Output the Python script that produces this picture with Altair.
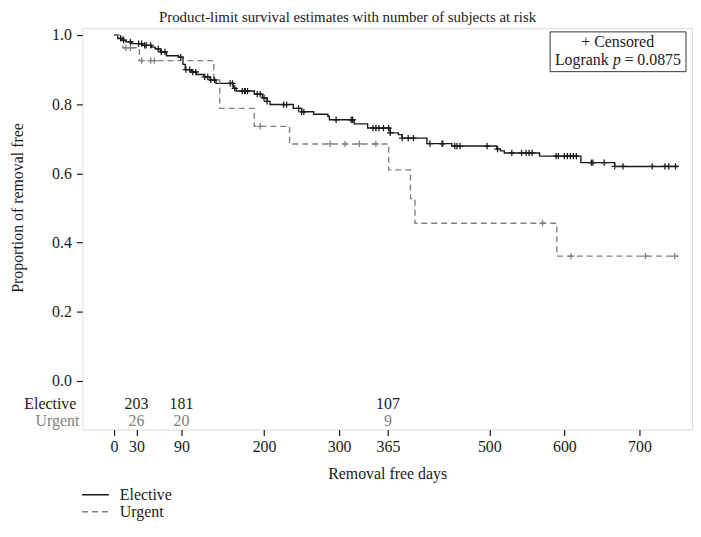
import altair as alt
import pandas as pd
import numpy as np

FONT = "Liberation Serif"
BLACK = "#1a1a1a"
GRAY = "#808080"
FS = 16

# ---- data ----
elective_days = [0, 5, 10, 16, 24, 38, 50, 55, 62, 70, 86, 92, 95, 103, 110, 120, 128, 136,
                 159, 163, 187, 198, 204, 208, 239, 250, 266, 285, 287, 320, 338, 368, 379,
                 384, 417, 450, 510, 515, 520, 567, 622, 667, 752]
elective_surv = [1.0, 0.990, 0.985, 0.980, 0.975, 0.970, 0.965, 0.960, 0.951, 0.940, 0.936,
                 0.915, 0.900, 0.893, 0.886, 0.879, 0.870, 0.860, 0.846, 0.838, 0.829, 0.818,
                 0.808, 0.799, 0.788, 0.778, 0.771, 0.765, 0.755, 0.743, 0.731, 0.717, 0.712,
                 0.702, 0.686, 0.679, 0.670, 0.665, 0.659, 0.650, 0.631, 0.620, 0.620]
urgent_days = [0, 12, 34, 133, 141, 187, 234, 366, 395, 401, 590, 752]
urgent_surv = [1.0, 0.963, 0.926, 0.870, 0.788, 0.736, 0.685, 0.610, 0.527, 0.456, 0.361, 0.361]

elective_censor_days = [9, 13, 22, 33, 37, 41, 43, 49, 59, 63, 68, 89, 96, 101, 105, 109, 121,
                        125, 129, 134, 155, 158, 161, 171, 174, 175, 178, 191, 195, 200, 204,
                        226, 230, 246, 250, 253, 296, 316, 318, 345, 349, 353, 359, 366, 368,
                        384, 392, 399, 421, 437, 438, 454, 457, 461, 497, 511, 530, 543, 549,
                        553, 557, 589, 592, 600, 604, 608, 612, 616, 636, 638, 653, 667, 678,
                        717, 734, 739, 748]
urgent_censor_days = [16, 22, 37, 49, 54, 195, 288, 308, 327, 349, 571, 609, 708, 747]

groups = ["Elective", "Urgent"]
risk_days = [30, 90, 365]
elective_at_risk = [203, 181, 107]
urgent_at_risk = [26, 20, 9]
x_ticks = [0, 30, 90, 200, 300, 365, 500, 600, 700]
y_ticks = [0.0, 0.2, 0.4, 0.6, 0.8, 1.0]

title_text = "Product-limit survival estimates with number of subjects at risk"
x_title = "Removal free days"
y_title = "Proportion of removal free"
p_value = "0.0875"

# ---- tables ----
def step_value(days, surv, t):
    i = int(np.searchsorted(np.array(days), t, side="right")) - 1
    return surv[i]

curve_df = pd.concat([
    pd.DataFrame({"group": "Elective", "day": elective_days, "surv": elective_surv}),
    pd.DataFrame({"group": "Urgent", "day": urgent_days, "surv": urgent_surv}),
])
censor_df = pd.concat([
    pd.DataFrame({"group": "Elective", "day": elective_censor_days,
                  "surv": [step_value(elective_days, elective_surv, t) for t in elective_censor_days]}),
    pd.DataFrame({"group": "Urgent", "day": urgent_censor_days,
                  "surv": [step_value(urgent_days, urgent_surv, t) for t in urgent_censor_days]}),
])
risk_df = pd.concat([
    pd.DataFrame({"group": "Elective", "day": risk_days, "surv": -0.066,
                  "label": [str(v) for v in elective_at_risk]}),
    pd.DataFrame({"group": "Urgent", "day": risk_days, "surv": -0.117,
                  "label": [str(v) for v in urgent_at_risk]}),
])
row_label_df = pd.DataFrame({"group": groups, "day": [-50, -46], "surv": [-0.066, -0.117],
                             "label": groups})
box_df = pd.DataFrame({"day": [581], "day2": [762], "surv": [1.009], "surv2": [0.894]})
legend_line_df = pd.DataFrame({"group": groups, "day": [-42.3, -42.3], "day2": [-6.6, -6.6],
                               "surv": [-0.329, -0.378]})
legend_text_df = pd.DataFrame({"group": groups, "day": [7.9, 7.9], "surv": [-0.329, -0.378],
                               "label": groups})

# ---- scales ----
xs = alt.Scale(domain=[-42, 770], nice=False, zero=False)
ys = alt.Scale(domain=[-0.1404, 1.02], nice=False, zero=False)
cs = alt.Scale(domain=groups, range=[BLACK, GRAY])
ds = alt.Scale(domain=groups, range=[[1, 0], [6, 4]])

x_enc = alt.X("day:Q", scale=xs, axis=alt.Axis(
    values=x_ticks, title=x_title, domain=False, grid=False, tickColor=BLACK, tickSize=6,
    tickWidth=1.2, labelFont=FONT, labelFontSize=FS, labelColor=BLACK, labelPadding=3,
    labelFlush=False, labelOverlap=False, titleFont=FONT, titleFontSize=FS,
    titleFontWeight="normal", titleColor=BLACK, titlePadding=11))
y_enc = alt.Y("surv:Q", scale=ys, axis=alt.Axis(
    values=y_ticks, format=".1f", title=y_title, domain=False, grid=False, tickColor=BLACK,
    tickSize=6, tickWidth=1.2, labelFont=FONT, labelFontSize=FS, labelColor=BLACK,
    labelPadding=5, titleFont=FONT, titleFontSize=FS, titleFontWeight="normal",
    titleColor=BLACK, titleY=181, titleX=-57))
color_enc = alt.Color("group:N", scale=cs, legend=None)

lines = alt.Chart(curve_df).mark_line(interpolate="step-after", strokeWidth=1.4).encode(
    x=x_enc, y=y_enc, color=color_enc,
    strokeDash=alt.StrokeDash("group:N", scale=ds, legend=None), detail="group:N")

censors = alt.Chart(censor_df).mark_point(
    shape="M-1,0L1,0M0,-1L0,1", size=40, strokeWidth=1.3, filled=False, opacity=1).encode(
    x="day:Q", y="surv:Q", color=color_enc)

risk = alt.Chart(risk_df).mark_text(font=FONT, fontSize=FS, baseline="middle").encode(
    x="day:Q", y="surv:Q", text="label:N", color=color_enc)

row_labels = alt.Chart(row_label_df).mark_text(
    font=FONT, fontSize=FS, baseline="middle", align="right").encode(
    x="day:Q", y="surv:Q", text="label:N", color=color_enc)

box = alt.Chart(box_df).mark_rect(fill="white", stroke="#333333", strokeWidth=1).encode(
    x="day:Q", x2="day2:Q", y="surv:Q", y2="surv2:Q")

def box_text(day, surv, label, align, style="normal"):
    return alt.Chart(pd.DataFrame({"day": [day], "surv": [surv], "label": [label]})).mark_text(
        font=FONT, fontSize=FS, color=BLACK, align=align, baseline="middle",
        fontStyle=style).encode(x="day:Q", y="surv:Q", text="label:N")

box_line1 = box_text(671, 0.980, "+ Censored", "center")
box_l2a = box_text(659, 0.928, "Logrank", "right")
box_l2b = box_text(670, 0.928, "p", "center", "italic")
box_l2c = box_text(680, 0.928, "= " + p_value, "left")

leg_lines = alt.Chart(legend_line_df).mark_rule(strokeWidth=1.4).encode(
    x="day:Q", x2="day2:Q", y="surv:Q", color=color_enc,
    strokeDash=alt.StrokeDash("group:N", scale=ds, legend=None))
leg_text = alt.Chart(legend_text_df).mark_text(
    font=FONT, fontSize=FS, align="left", baseline="middle", color=BLACK).encode(
    x="day:Q", y="surv:Q", text="label:N")

chart = alt.layer(
    lines, censors, risk, row_labels, box, box_line1, box_l2a, box_l2b, box_l2c,
    leg_lines, leg_text
).properties(
    width=615, height=405,
    padding={"left": 75, "top": 18, "right": 1, "bottom": 90},
    autosize=alt.AutoSizeParams(type="none"),
    title=alt.TitleParams(title_text, font=FONT, fontSize=15, fontWeight="normal",
                          color=BLACK, anchor="middle", frame="group", dx=-40, offset=2),
).configure_view(stroke=BLACK, strokeWidth=1.5).configure(background="white")

chart.save("out.html", embed_options={"renderer": "svg", "actions": False})
